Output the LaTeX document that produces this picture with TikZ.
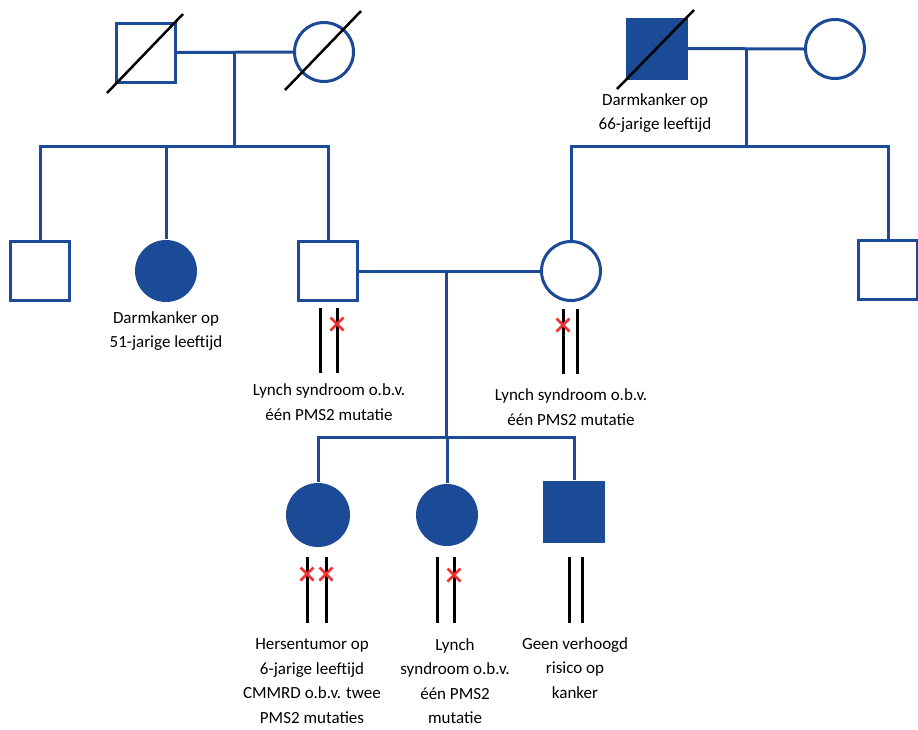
\documentclass[tikz,border=0pt]{standalone}
\usepackage{fontspec}
\setmainfont{Carlito}
\usetikzlibrary{calc}
\definecolor{pblue}{RGB}{27,74,151}
\definecolor{pred}{RGB}{240,50,50}
\begin{document}
\begin{tikzpicture}[x=1pt,y=-1pt,
  line/.style={draw=pblue,line width=3pt},
  male/.style={draw=pblue,line width=3pt,rectangle,minimum size=59pt,inner sep=0pt,fill=white},
  female/.style={draw=pblue,line width=3pt,circle,minimum size=59pt,inner sep=0pt,fill=white},
  aff/.style={fill=pblue},
  dec/.style={draw=black,line width=2.5pt},
  chrom/.style={draw=black,line width=3pt},
  mut/.style={draw=pred,line width=2.8pt},
  lbl/.style={align=center,font=\fontsize{17}{24.5}\selectfont,inner sep=0pt},
  mutcross/.pic={\draw[mut] (-6.5,-6.5)--(6.5,6.5) (-6.5,6.5)--(6.5,-6.5);}]
\useasboundingbox (0,0) rectangle (918,729);

% generation I
\node[male] (gf1) at (145.5,52.5) {};
\node[female] (gm1) at (324,52) {};
\node[male,aff] (gf2) at (656.5,48.5) {};
\node[female] (gm2) at (835,49) {};

% generation II
\node[male] (c1) at (40,271) {};
\node[female,aff,minimum size=62pt,draw=none] (c2) at (166,271) {};
\node[male] (fa) at (328,271) {};
\node[female] (mo) at (571,271) {};
\node[male] (c5) at (888,270) {};

% generation III
\node[female,aff,minimum size=64pt,draw=none] (k1) at (318,515) {};
\node[female,aff,minimum size=62pt,draw=none] (k2) at (447,515) {};
\node[male,aff,minimum size=62pt,draw=none] (k3) at (574,512) {};

% coordinates for connector joints
\coordinate (m1) at (234,52);
\coordinate (s1) at (234,146);
\coordinate (m2) at (746,49);
\coordinate (s2) at (746,146);
\coordinate (m3) at (446,271);
\coordinate (s3) at (446,437);

% connectors
\draw[line] (gf1.east) -- (gm1.west);
\draw[line] (m1) -- (s1);
\draw[line,line join=miter] (c1.north) -- (c1 |- s1) -- (fa |- s1) -- (fa.north);
\draw[line] (c2 |- s1) -- (c2.north);

\draw[line] (gf2.east) -- (gm2.west);
\draw[line] (m2) -- (s2);
\draw[line,line join=miter] (mo.north) -- (mo |- s2) -- (c5 |- s2) -- (c5.north);

\draw[line] (fa.east) -- (mo.west);
\draw[line] (m3) -- (s3);
\draw[line,line join=miter] (k1.north) -- (k1 |- s3) -- (k3 |- s3) -- (k3.north);
\draw[line] (k2 |- s3) -- (k2.north);

% deceased slashes
\draw[dec] ($(gf1.center)+(-38.5,40.5)$) -- ($(gf1.center)+(37.5,-38.5)$);
\draw[dec] ($(gm1.center)+(-39,38)$) -- ($(gm1.center)+(37,-41)$);
\draw[dec] ($(gf2.center)+(-39.5,40.5)$) -- ($(gf2.center)+(37.5,-38.5)$);

% chromosomes
\draw[chrom] (320,308) -- (320,373) (337,308) -- (337,373);
\pic at (337,324) {mutcross};
\draw[chrom] (563,309) -- (563,374) (577,309) -- (577,374);
\pic at (563,325) {mutcross};
\draw[chrom] (307,557) -- (307,623) (326,557) -- (326,623);
\pic at (307,574) {mutcross};
\pic at (326,574) {mutcross};
\draw[chrom] (437,557) -- (437,623) (454,557) -- (454,623);
\pic at (454,575) {mutcross};
\draw[chrom] (569,557) -- (569,623) (582,557) -- (582,623);

% labels
\node[lbl] (t1) at (655,113) {Darmkanker op\\66-jarige leeftijd};
\node[lbl] (t2) at (166,331) {Darmkanker op\\51-jarige leeftijd};
\node[lbl] (t3) at (329,402) {Lynch syndroom o.b.v.\\één PMS2 mutatie};
\node[lbl] (t4) at (571,407) {Lynch syndroom o.b.v.\\één PMS2 mutatie};
\node[lbl] (t5) at (312,681) {Hersentumor op\\6-jarige leeftijd\\CMMRD o.b.v. twee\\PMS2 mutaties};
\node[lbl] (t6) at (455,681) {Lynch\\syndroom o.b.v.\\één PMS2\\mutatie};
\node[lbl] (t7) at (575,668) {Geen verhoogd\\risico op\\kanker};
\end{tikzpicture}
\end{document}
